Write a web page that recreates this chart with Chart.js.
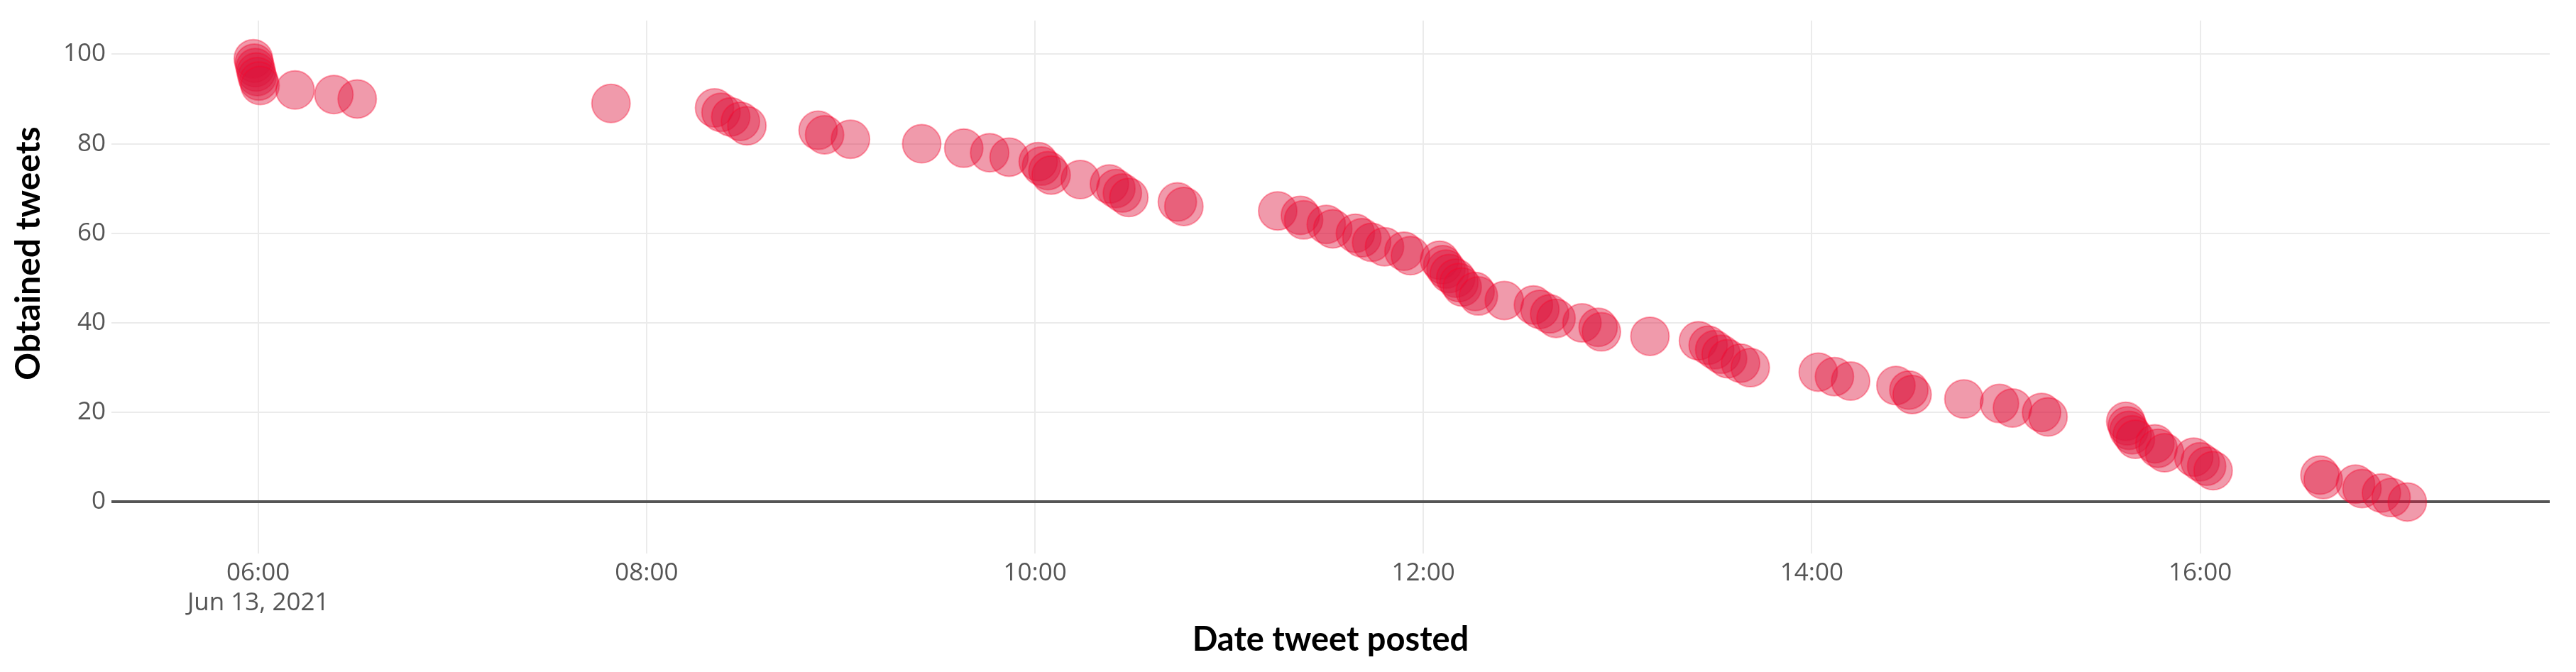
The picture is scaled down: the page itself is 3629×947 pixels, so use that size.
<!DOCTYPE html>
<html>
<head>
<meta charset="utf-8">
<title>Obtained tweets</title>
<script src="https://cdn.jsdelivr.net/npm/chart.js@4.4.1/dist/chart.umd.min.js"></script>
<style>
  html, body { margin: 0; padding: 0; background: #fff; }
  #wrap { width: 3629px; height: 947px; }
</style>
</head>
<body>
<div id="wrap"><canvas id="tweetsChart" width="3629" height="947"></canvas></div>
<script>
// time each tweet was posted (Jun 13, 2021)
const postedAt = [
  '05:58:30', '05:58:48', '05:59:06', '05:59:24', '05:59:42', '06:00:11', '06:00:36',
  '06:11:24', '06:23:24', '06:30:36', '07:49:00',
  '08:21:00', '08:23:00', '08:26:00', '08:29:00', '08:31:00',
  '08:53:00', '08:55:00', '09:03:00', '09:25:00',
  '09:38:00', '09:46:00', '09:52:00',
  '10:01:00', '10:02:00', '10:04:00', '10:05:00', '10:14:00',
  '10:23:00', '10:25:00', '10:27:00', '10:29:00',
  '10:44:00', '10:46:00', '11:15:00', '11:22:00', '11:23:00',
  '11:30:00', '11:32:00', '11:39:00', '11:41:00', '11:44:00', '11:48:00', '11:54:00', '11:56:00',
  '12:05:00', '12:06:00', '12:07:00', '12:08:00', '12:10:00', '12:11:00', '12:12:00',
  '12:16:00', '12:17:00', '12:25:00', '12:34:00', '12:36:00', '12:39:00', '12:41:00',
  '12:49:00', '12:54:00', '12:55:00', '13:10:00',
  '13:25:00', '13:28:00', '13:30:00', '13:32:00', '13:34:00', '13:38:00', '13:41:00',
  '14:02:00', '14:07:00', '14:12:00', '14:26:00', '14:30:00', '14:31:00', '14:47:00',
  '14:58:00', '15:02:00', '15:11:00', '15:13:00',
  '15:37:00', '15:37:30', '15:38:00', '15:39:00', '15:40:00',
  '15:46:00', '15:47:00', '15:49:00',
  '15:58:00', '16:00:00', '16:02:00', '16:04:00',
  '16:37:00', '16:38:00', '16:48:00', '16:50:00', '16:56:00', '16:59:00', '17:04:00'
];

// obtained tweets count for each of the times above
const obtained = [
  99, 98, 97, 96, 95, 94, 93, 92, 91, 90,
  89, 88, 87, 86, 85, 84, 83, 82, 81, 80,
  79, 78, 77, 76, 75, 74, 73, 72, 71, 70,
  69, 68, 67, 66, 65, 64, 63, 62, 61, 60,
  59, 58, 57, 56, 55, 54, 53, 52, 51, 50,
  49, 48, 47, 46, 45, 44, 43, 42, 41, 40,
  39, 38, 37, 36, 35, 34, 33, 32, 31, 30,
  29, 28, 27, 26, 25, 24, 23, 22, 21, 20,
  19, 18, 17, 16, 15, 14, 13, 12, 11, 10,
  9, 8, 7, 6, 5, 4, 3, 2, 1, 0
];

const xTickTimes = ['06:00', '08:00', '10:00', '12:00', '14:00', '16:00'];
const xDateLabel = 'Jun 13, 2021';
const yTicks = [0, 20, 40, 60, 80, 100];

// "HH:MM[:SS]" -> hours since midnight
function toHours(t) {
  const p = t.split(':').map(Number);
  return p[0] + p[1] / 60 + (p[2] || 0) / 3600;
}

const points = postedAt.map((t, i) => ({ x: toHours(t), y: obtained[i] }));

const tickFont = { family: "'Open Sans', 'Liberation Sans', sans-serif", size: 35 };
const titleFont = { family: 'Lato, sans-serif', size: 47, weight: 'bold' };

// y axis title sits a bit above the middle of the plot, as in the original
const yTitlePlugin = {
  id: 'yTitle',
  afterDraw(chart) {
    const ctx = chart.ctx;
    ctx.save();
    ctx.translate(41, 357);
    ctx.rotate(-Math.PI / 2);
    ctx.font = 'bold 48px Lato, sans-serif';
    ctx.fillStyle = '#000';
    ctx.textAlign = 'center';
    ctx.textBaseline = 'middle';
    ctx.fillText('Obtained tweets', 0, 0);
    ctx.restore();
  }
};

new Chart(document.getElementById('tweetsChart'), {
  type: 'scatter',
  data: {
    datasets: [{
      label: 'Obtained tweets',
      data: points,
      pointRadius: 27,
      pointHoverRadius: 27,
      backgroundColor: 'rgba(220, 20, 60, 0.43)',
      borderColor: 'rgba(255, 0, 40, 0.35)',
      borderWidth: 2
    }]
  },
  options: {
    responsive: false,
    animation: false,
    devicePixelRatio: 1,
    layout: { padding: { left: 0, right: 37, top: 23, bottom: 0 } },
    plugins: {
      legend: { display: false },
      tooltip: { enabled: false }
    },
    scales: {
      x: {
        type: 'linear',
        min: toHours('05:14:40'),
        max: toHours('17:48:00'),
        afterBuildTicks: (scale) => {
          scale.ticks = xTickTimes.map((t) => ({ value: toHours(t) }));
        },
        afterFit: (scale) => { scale.height = 167; },
        ticks: {
          autoSkip: false,
          maxRotation: 0,
          padding: 7,
          color: '#555',
          font: tickFont,
          callback: (value, index) => index === 0 ? [xTickTimes[index], xDateLabel] : xTickTimes[index]
        },
        grid: { color: '#ebebeb', lineWidth: 2, drawTicks: false },
        border: { display: false },
        title: {
          display: true,
          text: 'Date tweet posted',
          color: '#000',
          font: titleFont,
          padding: { top: 0, bottom: 17 }
        }
      },
      y: {
        min: -11.5,
        max: 107.5,
        afterBuildTicks: (scale) => {
          scale.ticks = yTicks.map((v) => ({ value: v }));
        },
        afterFit: (scale) => { scale.width = 157; },
        ticks: {
          padding: 8,
          color: '#555',
          font: tickFont
        },
        grid: {
          color: (ctx) => ctx.tick && ctx.tick.value === 0 ? '#555' : '#ebebeb',
          lineWidth: (ctx) => ctx.tick && ctx.tick.value === 0 ? 4 : 2,
          drawTicks: false
        },
        border: { display: false }
      }
    }
  },
  plugins: [yTitlePlugin]
});
</script>
</body>
</html>
